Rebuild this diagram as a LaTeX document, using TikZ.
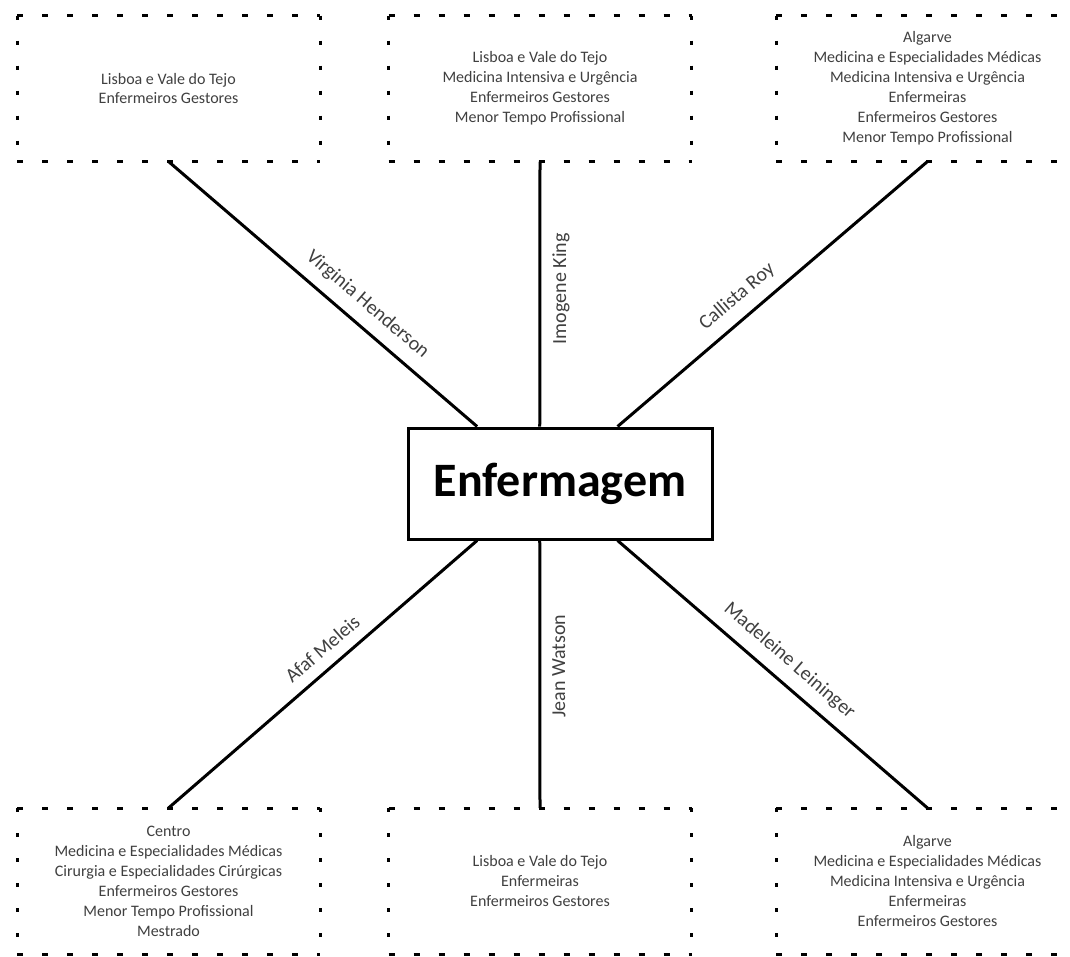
\documentclass[tikz,border=0pt]{standalone}
\usepackage{fontspec}
\setmainfont{Carlito}
\usetikzlibrary{calc}
\definecolor{txt}{HTML}{404040}
\begin{document}
\begin{tikzpicture}[x=1pt,y=-1pt,
  box/.style={minimum width=303pt, minimum height=146pt, inner sep=0pt, outer sep=0pt, align=center, text=txt, font=\fontsize{16}{20}\selectfont},
  hdash/.style={line width=3pt, dash pattern=on 6pt off 19pt},
  vdash/.style={line width=3pt, dash pattern=on 4pt off 21pt},
  conn/.style={line width=3pt, draw=black},
  lbl/.style={sloped, allow upside down, inner sep=11pt, text=txt, font=\fontsize{20}{24}\selectfont},
  hub/.style={draw, line width=3pt, minimum width=304pt, minimum height=111pt, inner sep=0pt, font=\fontsize{48}{58}\selectfont\bfseries}]
\useasboundingbox (0,0) rectangle (1070,956);
\clip (0,0) rectangle (1070,956);
\fill[white] (0,0) rectangle (1070,956);

\node[box] (tl) at (168.5,88.5) {Lisboa e Vale do Tejo\\Enfermeiros Gestores};
\node[box] (tm) at (540,88.5) {Lisboa e Vale do Tejo\\Medicina Intensiva e Urgência\\Enfermeiros Gestores\\Menor Tempo Profissional};
\node[box] (tr) at (927.5,88.5) {Algarve\\Medicina e Especialidades Médicas\\Medicina Intensiva e Urgência\\Enfermeiras\\Enfermeiros Gestores\\Menor Tempo Profissional};
\node[box] (bl) at (168.5,881) {Centro\\Medicina e Especialidades Médicas\\Cirurgia e Especialidades Cirúrgicas\\Enfermeiros Gestores\\Menor Tempo Profissional\\Mestrado};
\node[box] (bm) at (540,881) {Lisboa e Vale do Tejo\\Enfermeiras\\Enfermeiros Gestores};
\node[box] (br) at (927.5,881) {Algarve\\Medicina e Especialidades Médicas\\Medicina Intensiva e Urgência\\Enfermeiras\\Enfermeiros Gestores};

\foreach \n in {tl,tm,tr,bl,bm,br} {
  \draw[hdash] (\n.north west) -- (\n.north east);
  \draw[hdash] (\n.south west) -- (\n.south east);
  \draw[vdash] (\n.north west) -- (\n.south west);
  \draw[vdash] (\n.north east) -- (\n.south east);
}

\node[hub] (c) at (560,483.5) {Enfermagem};

\draw[conn] (tl.south) -- ($(c.north west)!0.23!(c.north east)$) node[lbl, pos=0.6, above] {Virginia Henderson};
\draw[conn] ($(c.north west)!0.434!(c.north east)$) -- (tm.south) node[lbl, pos=0.52, below] {Imogene King};
\draw[conn] ($(c.north west)!0.6875!(c.north east)$) -- (tr.south) node[lbl, pos=0.43, above] {Callista Roy};
\draw[conn] (bl.north) -- ($(c.south west)!0.23!(c.south east)$) node[lbl, pos=0.54, above] {Afaf Meleis};
\draw[conn] (bm.north) -- ($(c.south west)!0.434!(c.south east)$) node[lbl, pos=0.53, below] {Jean Watson};
\draw[conn] ($(c.south west)!0.6875!(c.south east)$) -- (br.north) node[lbl, pos=0.51, above] {Madeleine Leininger};
\end{tikzpicture}
\end{document}
